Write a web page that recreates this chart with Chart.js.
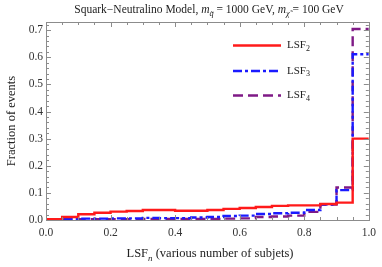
<!DOCTYPE html>
<html>
<head>
<meta charset="utf-8">
<script src="https://cdn.jsdelivr.net/npm/chart.js@4.4.1/dist/chart.umd.min.js"></script>
<style>
  html, body { margin: 0; padding: 0; background: #fff; }
  #wrap { width: 382px; height: 267px; }
</style>
</head>
<body>
<div id="wrap"><canvas id="lsfChart"></canvas></div>
<script>
"use strict";

// bins of width 0.05, left edges
const binStarts = [0.00, 0.05, 0.10, 0.15, 0.20, 0.25, 0.30, 0.35, 0.40, 0.45,
                   0.50, 0.55, 0.60, 0.65, 0.70, 0.75, 0.80, 0.85, 0.90, 0.95];
const binEnd = 1.0;
const lsf2 = [0.003, 0.011, 0.021, 0.027, 0.031, 0.033, 0.037, 0.037, 0.034, 0.034,
              0.037, 0.041, 0.044, 0.048, 0.052, 0.054, 0.054, 0.059, 0.064, 0.300];
const lsf3 = [0.002, 0.003, 0.005, 0.005, 0.006, 0.006, 0.008, 0.007, 0.007, 0.009,
              0.011, 0.015, 0.016, 0.022, 0.025, 0.027, 0.037, 0.057, 0.110, 0.611];
const lsf4 = [0.002, 0.002, 0.003, 0.003, 0.003, 0.003, 0.004, 0.004, 0.004, 0.004,
              0.004, 0.005, 0.006, 0.011, 0.013, 0.016, 0.030, 0.057, 0.120, 0.704];
const xTicks = [0.0, 0.2, 0.4, 0.6, 0.8, 1.0];
const yTicks = [0.0, 0.1, 0.2, 0.3, 0.4, 0.5, 0.6, 0.7];
const xMinor = 0.05;
const yMinor = 0.02;

const SERIF = "'Liberation Serif', 'DejaVu Serif', serif";

// step histogram points: left edge of each bin, plus the closing edge
const steps = (vals) =>
  binStarts.map((x, i) => ({ x, y: vals[i] })).concat([{ x: binEnd, y: vals[vals.length - 1] }]);

const series = [
  { label: "2", data: lsf2, color: "#ff1a1a", dash: [] },
  { label: "3", data: lsf3, color: "#1a1aff", dash: [9, 3, 3, 3] },
  { label: "4", data: lsf4, color: "#7f1a86", dash: [10, 5] },
];

// ── 框线刻度 / 标题 / 图例（Mathematica 风格）──────────────────
const framePlugin = {
  id: "frame",
  afterDraw(chart) {
    const { ctx, chartArea: a, scales } = chart;
    const xs = scales.x, ys = scales.y;
    ctx.save();

    // frame
    ctx.strokeStyle = "#8c8c8c";
    ctx.lineWidth = 1;
    ctx.strokeRect(Math.round(a.left) + 0.5, Math.round(a.top) + 0.5,
                   Math.round(a.right - a.left), Math.round(a.bottom - a.top));

    // ticks on all four sides, pointing inward
    const tick = (x1, y1, x2, y2) => {
      ctx.beginPath(); ctx.moveTo(x1, y1); ctx.lineTo(x2, y2); ctx.stroke();
    };
    for (let k = 0; k <= Math.round((xs.max - xs.min) / xMinor); k++) {
      const v = xs.min + k * xMinor;
      const px = Math.round(xs.getPixelForValue(v)) + 0.5;
      const major = xTicks.some((t) => Math.abs(t - v) < 1e-6);
      const len = major ? 5 : 3;
      tick(px, a.bottom, px, a.bottom - len);
      tick(px, a.top, px, a.top + len);
    }
    for (let k = 0; k * yMinor <= ys.max + 1e-9; k++) {
      const v = k * yMinor;
      const py = Math.round(ys.getPixelForValue(v)) + 0.5;
      const major = yTicks.some((t) => Math.abs(t - v) < 1e-6);
      const len = major ? 5 : 3;
      tick(a.left, py, a.left + len, py);
      tick(a.right, py, a.right - len, py);
    }

    // rich text helper: parts = [{t, italic, sub}]
    const drawRich = (parts, cx, cy, size) => {
      const fontOf = (p) => `${p.italic ? "italic " : ""}${p.sub ? size * 0.72 : size}px ${SERIF}`;
      let w = 0;
      parts.forEach((p) => { ctx.font = fontOf(p); w += ctx.measureText(p.t).width; });
      let x = cx - w / 2;
      ctx.textBaseline = "alphabetic";
      ctx.textAlign = "left";
      parts.forEach((p) => {
        ctx.font = fontOf(p);
        ctx.fillText(p.t, x, cy + (p.sub ? size * 0.3 : 0));
        x += ctx.measureText(p.t).width;
      });
    };

    ctx.fillStyle = "#222";
    // title
    drawRich([
      { t: "Squark\u2212Neutralino Model, " },
      { t: "m", italic: true },
      { t: "q\u0303", italic: true, sub: true },
      { t: " = 1000 GeV, " },
      { t: "m", italic: true },
      { t: "\u03c7\u0303", italic: true, sub: true },
      { t: " = 100 GeV" },
    ], 209, 13, 11.5);

    // x axis title
    drawRich([
      { t: "LSF" },
      { t: "n", italic: true, sub: true },
      { t: " (various number of subjets)" },
    ], 210, 257, 12.5);

    // legend
    series.forEach((s, i) => {
      const y = [45.5, 71, 95.5][i];
      ctx.strokeStyle = s.color;
      ctx.lineWidth = 2.4;
      ctx.setLineDash(s.dash);
      tick(233, y, 281, y);
      ctx.setLineDash([]);
      ctx.fillStyle = "#222";
      ctx.font = `11px ${SERIF}`;
      ctx.textBaseline = "middle";
      ctx.textAlign = "left";
      ctx.fillText("LSF", 287, y);
      const w = ctx.measureText("LSF").width;
      ctx.font = `8px ${SERIF}`;
      ctx.fillText(s.label, 287 + w, y + 3);
    });

    ctx.restore();
  },
};

new Chart(document.getElementById("lsfChart"), {
  type: "line",
  data: {
    datasets: series.map((s) => ({
      label: "LSF" + s.label,
      data: steps(s.data),
      borderColor: s.color,
      borderDash: s.dash,
      borderWidth: 2.4,
      stepped: true,
      pointRadius: 0,
      fill: false,
    })),
  },
  options: {
    responsive: true,
    maintainAspectRatio: false,
    animation: false,
    layout: { padding: { top: 22, right: 8, left: 0, bottom: 0 } },
    plugins: { legend: { display: false }, tooltip: { enabled: false } },
    scales: {
      x: {
        type: "linear",
        min: 0,
        max: 1,
        afterFit: (s) => { s.height = 47; },
        afterBuildTicks: (s) => { s.ticks = xTicks.map((v) => ({ value: v })); },
        grid: { display: false, drawTicks: false },
        border: { display: false },
        ticks: {
          color: "#333",
          padding: 6,
          maxRotation: 0,
          font: { family: SERIF, size: 11.5 },
          callback: (v) => v.toFixed(1),
        },
      },
      y: {
        min: 0,
        max: 0.73,
        afterFit: (s) => { s.width = 46; },
        afterBuildTicks: (s) => { s.ticks = yTicks.map((v) => ({ value: v })); },
        grid: { display: false, drawTicks: false },
        border: { display: false },
        ticks: {
          color: "#333",
          padding: 3,
          font: { family: SERIF, size: 11.5 },
          callback: (v) => v.toFixed(1),
        },
        title: {
          display: true,
          text: "Fraction of events",
          color: "#222",
          padding: { top: 4, bottom: 0 },
          font: { family: SERIF, size: 12.5 },
        },
      },
    },
  },
  plugins: [framePlugin],
});
</script>
</body>
</html>
